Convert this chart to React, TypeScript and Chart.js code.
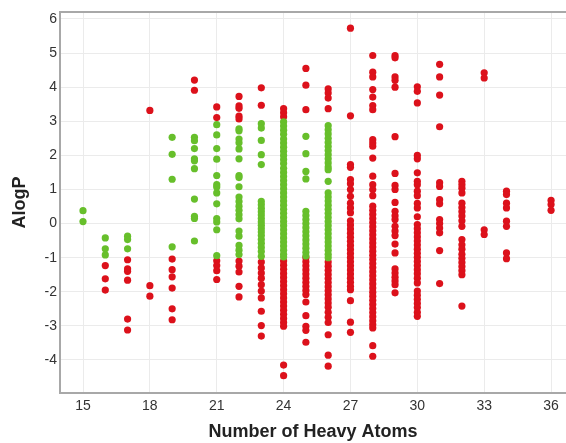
import React, { useEffect, useRef } from "react";
import { Chart, registerables } from "chart.js";

Chart.register(...registerables);

// Heavy-atom count -> AlogP values (green = within range, red = outside)
const greenByAtoms: [number, number[]][] = [
  [15, [0.38, 0.06]],
  [16, [-0.42, -0.74, -0.92]],
  [17, [-0.37, -0.47, -0.74]],
  [19, [2.53, 2.03, 1.3, -0.68]],
  [20, [2.53, 2.43, 2.2, 1.9, 1.84, 1.61, 0.72, 0.21, 0.15, -0.51]],
  [21, [2.9, 2.6, 2.2, 1.89, 1.41, 1.14, 1.07, 0.9, 0.58, 0.15, 0.05, -0.18, -0.94]],
  [22, [2.78, 2.72, 2.48, 2.37, 2.19, 1.9, 1.41, 1.35, 1.08, 0.78, 0.65, 0.51, 0.39, 0.26, 0.14, -0.22, -0.37, -0.64, -0.78, -0.91]],
  [23, [2.93, 2.8, 2.44, 2.02, 1.73, 0.65, 0.55, 0.45, 0.35, 0.25, 0.15, 0.05, -0.05, -0.15, -0.25, -0.35, -0.47, -0.58, -0.7, -0.82, -0.96]],
  [24, [2.98, 2.86, 2.74, 2.62, 2.48, 2.36, 2.24, 2.12, 2.0, 1.88, 1.76, 1.62, 1.5, 1.38, 1.26, 1.14, 1.02, 0.9, 0.78, 0.66, 0.54, 0.42, 0.3, 0.18, 0.06, -0.06, -0.18, -0.3, -0.42, -0.54, -0.66, -0.78, -0.9, -0.98]],
  [25, [2.56, 2.05, 1.53, 1.31, 0.36, 0.24, 0.12, 0.0, -0.12, -0.24, -0.36, -0.48, -0.6, -0.72, -0.84, -0.95]],
  [26, [2.87, 2.75, 2.63, 2.5, 2.38, 2.26, 2.14, 2.02, 1.9, 1.78, 1.66, 1.58, 1.24, 0.9, 0.78, 0.66, 0.54, 0.42, 0.3, 0.18, 0.06, -0.06, -0.18, -0.3, -0.42, -0.54, -0.66, -0.78, -0.9, -1.0]],
];

const redByAtoms: [number, number[]][] = [
  [16, [-1.23, -1.62, -1.95]],
  [17, [-1.06, -1.33, -1.4, -1.66, -2.8, -3.12]],
  [18, [3.32, -1.82, -2.13]],
  [19, [-1.04, -1.35, -1.56, -1.89, -2.5, -2.82]],
  [20, [4.21, 3.91]],
  [21, [3.42, 3.11, -1.09, -1.23, -1.38, -1.64]],
  [22, [3.73, 3.45, 3.38, 3.15, 3.07, -1.1, -1.25, -1.42, -1.84, -2.15]],
  [23, [3.98, 3.47, -1.13, -1.3, -1.45, -1.6, -1.79, -1.98, -2.18, -2.57, -2.99, -3.3]],
  [24, [3.37, 3.25, 3.13, -1.1, -1.22, -1.34, -1.46, -1.58, -1.7, -1.82, -1.94, -2.06, -2.18, -2.3, -2.42, -2.54, -2.66, -2.78, -2.9, -3.01, -4.15, -4.46]],
  [25, [4.55, 4.06, 3.34, -1.0, -1.12, -1.24, -1.36, -1.48, -1.6, -1.72, -1.84, -1.96, -2.08, -2.3, -2.7, -3.01, -3.13, -3.48]],
  [26, [3.95, 3.83, 3.68, 3.37, -1.13, -1.25, -1.37, -1.49, -1.61, -1.73, -1.85, -1.97, -2.09, -2.21, -2.33, -2.45, -2.6, -2.75, -2.9, -3.26, -3.86, -4.18]],
  [27, [5.73, 3.16, 1.73, 1.65, 1.29, 1.17, 1.0, 0.8, 0.6, 0.46, 0.32, 0.08, -0.04, -0.16, -0.28, -0.4, -0.52, -0.64, -0.76, -0.88, -1.0, -1.12, -1.24, -1.36, -1.48, -1.6, -1.72, -1.84, -1.94, -2.26, -2.89, -3.19]],
  [28, [4.93, 4.44, 4.3, 3.93, 3.71, 3.46, 3.34, 2.46, 2.36, 2.27, 1.92, 1.39, 1.14, 1.0, 0.82, 0.51, 0.39, 0.27, 0.15, 0.03, -0.09, -0.21, -0.33, -0.45, -0.57, -0.69, -0.81, -0.93, -1.05, -1.17, -1.29, -1.41, -1.53, -1.65, -1.77, -1.89, -2.01, -2.13, -2.25, -2.37, -2.49, -2.61, -2.73, -2.85, -2.96, -3.06, -3.58, -3.89]],
  [29, [4.93, 4.86, 4.3, 4.2, 4.0, 2.55, 1.47, 1.12, 1.0, 0.62, 0.36, 0.23, 0.12, -0.08, -0.22, -0.35, -0.6, -0.86, -1.33, -1.45, -1.57, -1.68, -1.79, -2.03]],
  [30, [4.01, 3.88, 3.54, 2.0, 1.9, 1.49, 1.24, 1.14, 0.95, 0.82, 0.59, 0.46, 0.2, -0.03, -0.15, -0.27, -0.39, -0.51, -0.63, -0.75, -0.87, -0.99, -1.11, -1.23, -1.35, -1.47, -1.6, -1.74, -1.98, -2.1, -2.22, -2.34, -2.46, -2.6, -2.72]],
  [31, [4.67, 4.3, 3.77, 2.84, 1.2, 1.09, 0.7, 0.58, 0.12, 0.0, -0.13, -0.27, -0.79, -1.76]],
  [32, [1.24, 1.14, 1.04, 0.9, 0.6, 0.47, 0.35, 0.22, 0.08, -0.08, -0.47, -0.62, -0.75, -0.9, -1.02, -1.14, -1.26, -1.38, -1.5, -2.42]],
  [33, [4.42, 4.27, -0.18, -0.32]],
  [34, [0.95, 0.85, 0.6, 0.46, 0.07, -0.08, -0.86, -1.03]],
  [36, [0.68, 0.56, 0.39]],
];

const xTickValues = [15, 18, 21, 24, 27, 30, 33, 36];
const yTickValues = [-4, -3, -2, -1, 0, 1, 2, 3, 4, 5, 6];

const xTitle = "Number of Heavy Atoms";
const yTitle = "AlogP";

const GREEN = "#67bf2b";
const RED = "#dc111b";

function toPoints(cols: [number, number[]][]) {
  const pts: { x: number; y: number }[] = [];
  cols.forEach(([x, ys]) => ys.forEach((y) => pts.push({ x, y })));
  return pts;
}

const topBorder = {
  id: "topBorder",
  afterDraw(chart: any) {
    const { ctx, chartArea } = chart;
    ctx.save();
    ctx.strokeStyle = "#a8a8a8";
    ctx.lineWidth = 2;
    ctx.beginPath();
    ctx.moveTo(chartArea.left, chartArea.top);
    ctx.lineTo(chartArea.right, chartArea.top);
    ctx.stroke();
    ctx.restore();
  },
};

export default function App() {
  const ref = useRef<HTMLCanvasElement>(null);

  useEffect(() => {
    if (!ref.current) return;
    const font = "'Liberation Sans', Arial, sans-serif";
    const chart = new Chart(ref.current, {
      type: "scatter",
      data: {
        datasets: [
          {
            label: "green",
            data: toPoints(greenByAtoms),
            backgroundColor: GREEN,
            borderColor: GREEN,
            borderWidth: 0,
            pointRadius: 3.6,
          },
          {
            label: "red",
            data: toPoints(redByAtoms),
            backgroundColor: RED,
            borderColor: RED,
            borderWidth: 0,
            pointRadius: 3.6,
          },
        ],
      },
      options: {
        animation: false,
        responsive: false,
        layout: { autoPadding: false, padding: { top: 12, right: 0, bottom: 0, left: 0 } },
        plugins: {
          legend: { display: false },
          tooltip: { enabled: false },
        },
        scales: {
          x: {
            type: "linear",
            min: 13.968,
            max: 36.67,
            afterBuildTicks: (scale: any) => {
              scale.ticks = xTickValues.map((v) => ({ value: v }));
            },
            afterFit: (scale: any) => {
              scale.height = 50;
              scale.paddingLeft = 0;
              scale.paddingRight = 0;
            },
            grid: { color: "#ebebeb", drawTicks: false, lineWidth: 1 },
            border: { display: true, color: "#a8a8a8", width: 2 },
            ticks: {
              padding: 5,
              color: "#333333",
              font: { family: font, size: 14 },
              maxRotation: 0,
            },
            title: {
              display: true,
              text: xTitle,
              color: "#222222",
              font: { family: font, size: 18, weight: "bold" },
              padding: { top: 0, bottom: 0 },
            },
          },
          y: {
            type: "linear",
            min: -4.968,
            max: 6.205,
            afterBuildTicks: (scale: any) => {
              scale.ticks = yTickValues.map((v) => ({ value: v }));
            },
            afterFit: (scale: any) => {
              scale.width = 60;
              scale.paddingTop = 0;
              scale.paddingBottom = 0;
            },
            grid: { color: "#ebebeb", drawTicks: false, lineWidth: 1 },
            border: { display: true, color: "#a8a8a8", width: 2 },
            ticks: {
              padding: 3,
              color: "#333333",
              font: { family: font, size: 14 },
            },
            title: {
              display: true,
              text: yTitle,
              color: "#222222",
              font: { family: font, size: 18, weight: "bold" },
              padding: { top: 9, bottom: 0 },
            },
          },
        },
      },
      plugins: [topBorder],
    } as any);
    return () => chart.destroy();
  }, []);

  return (
    <canvas
      ref={ref}
      width={566}
      height={443}
      style={{ position: "absolute", left: 0, top: 0, display: "block" }}
    />
  );
}
